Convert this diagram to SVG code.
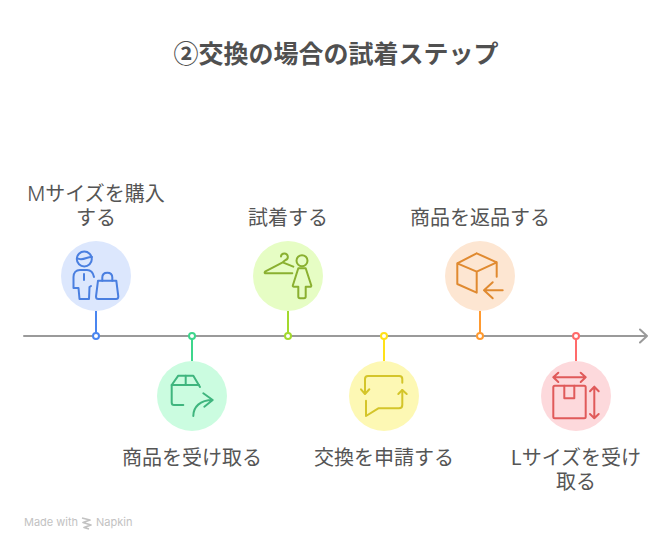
<svg xmlns="http://www.w3.org/2000/svg" width="672" height="550" viewBox="0 0 672 550">
<style>
text{font-family:"Noto Sans CJK JP","Noto Sans",sans-serif;fill:#555}
.t{font-size:25px;font-weight:700;text-anchor:middle;fill:#505050}
.l{font-size:20px;text-anchor:middle}
.m{font-family:"Inter","Noto Sans",sans-serif;font-weight:300}
.f{font-family:"Inter","Noto Sans",sans-serif;font-size:11px;fill:#c2c2c2}
.i{fill:none;stroke-width:2;stroke-linecap:round;stroke-linejoin:round}
.s{stroke-width:2;fill:none}
.d{fill:#fff;stroke-width:2}
</style>
<rect width="672" height="550" fill="#fff"/>
<text class="t" x="336" y="63">②交換の場合の試着ステップ</text>
<g id="connectors">
<path d="M24,336H647M640,329.500L647,336L640,342.500" fill="none" stroke="#9a9a9a" stroke-width="2" stroke-linecap="round" stroke-linejoin="round"/>
<path class="s" stroke="#4a86f0" d="M96,311V333"/>
<path class="s" stroke="#3dd68c" d="M192,339V361"/>
<path class="s" stroke="#a3d92e" d="M288,311V333"/>
<path class="s" stroke="#ffe119" d="M384,339V361"/>
<path class="s" stroke="#ff9a30" d="M480,311V333"/>
<path class="s" stroke="#ff6b6b" d="M576,339V361"/>
<circle class="d" stroke="#4a86f0" cx="96" cy="336" r="3"/>
<circle class="d" stroke="#3dd68c" cx="192" cy="336" r="3"/>
<circle class="d" stroke="#a3d92e" cx="288" cy="336" r="3"/>
<circle class="d" stroke="#ffe119" cx="384" cy="336" r="3"/>
<circle class="d" stroke="#ff9a30" cx="480" cy="336" r="3"/>
<circle class="d" stroke="#ff6b6b" cx="576" cy="336" r="3"/>
</g>
<g id="node1">
<circle cx="96" cy="276" r="35" fill="#dce7fd"/>
<g class="i" stroke="#4a7fe0">
<circle cx="84.300" cy="259" r="7.500"/>
<path d="M77,258C82,262 88,256 92,257"/>
<path d="M94,277C93,272 90,270 87,270H80C76,270 73.500,273 73.500,277V288H78.500L79.500,299H89L89.500,287L91,286"/>
<path d="M84,274V280"/>
<path d="M98,280.700H116.300L118.300,296.500Q118.300,299 116,299H98.300Q96,299 96,296.500Z"/>
<path d="M102.300,280.700V277.500Q102.300,272.700 107.300,272.700Q112.300,272.700 112.300,277.500V280.700"/>
</g>
<text class="l" x="96" y="201"><tspan class="m">M</tspan>サイズを購入<tspan x="96" y="225">する</tspan></text>
</g>
<g id="node2">
<circle cx="192" cy="396" r="35" fill="#cbfce0"/>
<g class="i" stroke="#3fb57e">
<path d="M183.300,405H174Q171.700,405 171.700,402.500V385L178.300,375.700H193.300L200,387"/>
<path d="M171.700,385H199"/>
<path d="M185.700,375.700V384"/>
<path d="M193.300,416C193.300,407 200,400 212.700,400M203.300,393.300L212.700,400L204.300,406.700"/>
</g>
<text class="l" x="192" y="465">商品を受け取る</text>
</g>
<g id="node3">
<circle cx="288" cy="276" r="35" fill="#e6fdc4"/>
<g class="i" stroke="#8ab030">
<path d="M281,256.500A3.400,3.400 0 1 1 285.500,260L282.700,262.300L265,271.700Q264,273.300 266,273.300H292.300M282.700,262.300L293.300,266.700"/>
<circle cx="302" cy="260.700" r="5.500"/>
<path d="M298.300,268.300H305.700L311.300,285.500Q311.500,286.700 310,286.700H305.700V296.500Q305.700,298.300 304,298.300H300Q298.300,298.300 298.300,296.500V286.700H294Q292.500,286.700 292.800,285.500Z"/>
</g>
<text class="l" x="288" y="225">試着する</text>
</g>
<g id="node4">
<circle cx="384" cy="396" r="35" fill="#fdf8b4"/>
<g class="i" stroke="#d4c52a">
<path d="M365,393.300V379Q365,376 368,376H399.300Q402.300,376 402.300,379V382.700"/>
<path d="M361,389.300L365,394L369.300,389.300"/>
<path d="M402.300,390V405Q402.300,408.300 399,408.300H378.300L366,416V400.700"/>
<path d="M398.300,394L402.300,390L406.700,394"/>
</g>
<text class="l" x="384" y="465">交換を申請する</text>
</g>
<g id="node5">
<circle cx="480" cy="276" r="35" fill="#fde6d2"/>
<g class="i" stroke="#e08a30">
<path d="M476.700,253.300L457.300,263.300V284L476.700,292.700V271.700L457.300,263.300M476.700,271.700L496.700,262.300L476.700,253.300M496.700,262.300V276.700"/>
<path d="M502.700,290.300H484M492.700,282.300L484,290.300L492.700,298.300"/>
</g>
<text class="l" x="480" y="225">商品を返品する</text>
</g>
<g id="node6">
<circle cx="576" cy="396" r="35" fill="#fdd9dc"/>
<g class="i" stroke="#e05a5a">
<rect x="553.300" y="385.700" width="32.400" height="32.600" rx="1.500"/>
<path d="M564.300,385.700V398.300H574.300V385.700"/>
<path d="M553.300,377.300H585.700M558.300,372.700L553.300,377.300L558.300,382M580.700,372.700L585.700,377.300L580.700,382"/>
<path d="M594.300,386.700V418.300M590,391.300L594.300,386.700L598.700,391.300M590,414L594.300,418.300L598.700,414"/>
</g>
<text class="l" x="576" y="465">Lサイズを受け<tspan x="576" y="489">取る</tspan></text>
</g>
<g id="footer">
<text class="f" x="24" y="526">Made with</text>
<path d="M82,518L90,520L83,522.500L91,525L84,527.500L89,529" fill="none" stroke="#c2c2c2" stroke-width="1.800" stroke-linejoin="round"/>
<text class="f" x="96" y="526">Napkin</text>
</g>
</svg>
